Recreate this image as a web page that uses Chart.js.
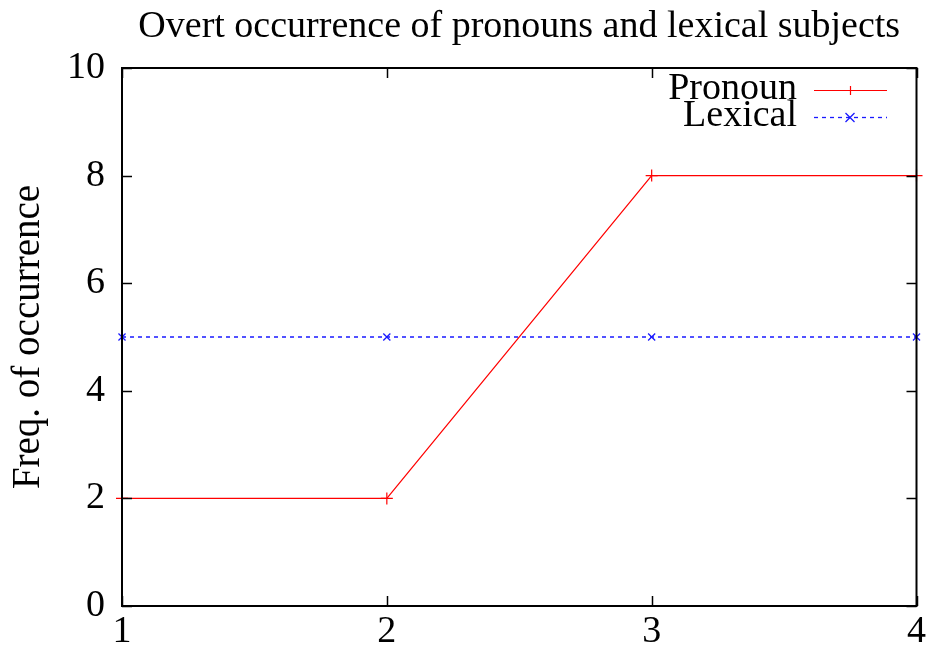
<!DOCTYPE html>
<html><head><meta charset="utf-8">
<script src="https://cdn.jsdelivr.net/npm/chart.js@4"></script>
<style>html,body{margin:0;padding:0;background:#fff}#wrap{width:929px;height:647px}</style>
</head><body><div id="wrap"><canvas id="c" width="929" height="647"></canvas></div>
<script>
const xValues = [1, 2, 3, 4];
const pronoun = [2, 2, 8, 8];
const lexical = [5, 5, 5, 5];
const xTicks = [1, 2, 3, 4];
const yTicks = [0, 2, 4, 6, 8, 10];
const titleText = 'Overt occurrence of pronouns and lexical subjects';
const yTitle = 'Freq. of occurrence';
const FONT = '"Liberation Serif", "Times New Roman", serif';

const framePlugin = {
  id: 'frame',
  afterDatasetsDraw(chart) {
    const {ctx, chartArea: a, scales: {x, y}} = chart;
    ctx.save();
    ctx.strokeStyle = '#000';
    ctx.lineWidth = 1.5;
    const tl = 10;
    yTicks.forEach(v => {
      const py = Math.round(y.getPixelForValue(v)) + 0.5;
      ctx.beginPath(); ctx.moveTo(a.left, py); ctx.lineTo(a.left + tl, py); ctx.stroke();
      ctx.beginPath(); ctx.moveTo(a.right, py); ctx.lineTo(a.right - tl, py); ctx.stroke();
    });
    xTicks.forEach(v => {
      const px = Math.round(x.getPixelForValue(v)) + 0.5;
      ctx.beginPath(); ctx.moveTo(px, a.bottom); ctx.lineTo(px, a.bottom - tl); ctx.stroke();
      ctx.beginPath(); ctx.moveTo(px, a.top); ctx.lineTo(px, a.top + tl); ctx.stroke();
    });
    ctx.lineWidth = 2;
    ctx.strokeRect(a.left, a.top, a.right - a.left, a.bottom - a.top);
    // title
    ctx.fillStyle = '#000';
    ctx.font = '38px ' + FONT;
    ctx.textAlign = 'center';
    ctx.textBaseline = 'middle';
    ctx.fillText(titleText, (a.left + a.right) / 2 , 27);
    // y title
    ctx.save();
    ctx.translate(29, (a.top + a.bottom) / 2);
    ctx.rotate(-Math.PI / 2);
    ctx.font = '39px ' + FONT;
    ctx.fillText(yTitle, 0, 0);
    ctx.restore();
    // legend
    ctx.font = '38px ' + FONT;
    ctx.textAlign = 'right';
    const rows = [[0, 89], [1, 116]];
    rows.forEach(([i, ry]) => {
      const ds = chart.data.datasets[i];
      ctx.fillStyle = '#000';
      ctx.fillText(ds.label, 797, ry);
      const ly = ry + 1.5;
      ctx.strokeStyle = ds.borderColor;
      ctx.lineWidth = ds.borderWidth;
      ctx.setLineDash(ds.borderDash || []);
      ctx.beginPath(); ctx.moveTo(814, ly); ctx.lineTo(887, ly); ctx.stroke();
      ctx.setLineDash([]);
      const m = 4.5;
      ctx.beginPath();
      if (ds.pointStyle === 'cross') {
        ctx.moveTo(850 - m, ly); ctx.lineTo(850 + m, ly);
        ctx.moveTo(850.5, ly - m); ctx.lineTo(850.5, ly + m);
      } else {
        ctx.moveTo(850 - m, ly - m); ctx.lineTo(850 + m, ly + m);
        ctx.moveTo(850 - m, ly + m); ctx.lineTo(850 + m, ly - m);
      }
      ctx.stroke();
    });
    ctx.restore();
  }
};

new Chart(document.getElementById('c'), {
  type: 'line',
  data: {
    datasets: [
      {
        label: 'Pronoun',
        data: xValues.map((v, i) => ({x: v, y: pronoun[i]})),
        borderColor: '#ff0000',
        backgroundColor: '#ff0000',
        borderWidth: 1.2,
        pointStyle: 'cross',
        pointRadius: 6,
        pointBorderWidth: 1.2,
        tension: 0,
        clip: false
      },
      {
        label: 'Lexical',
        data: xValues.map((v, i) => ({x: v, y: lexical[i]})),
        borderColor: '#1a1aff',
        backgroundColor: '#1a1aff',
        borderWidth: 1.3,
        borderDash: [4, 4],
        pointStyle: 'crossRot',
        pointRadius: 5,
        pointBorderWidth: 1.3,
        tension: 0,
        clip: false
      }
    ]
  },
  options: {
    responsive: false,
    animation: false,
    events: [],
    layout: {padding: {left: 0, right: 10, top: 68, bottom: 0}},
    plugins: {legend: {display: false}, title: {display: false}, tooltip: {enabled: false}},
    scales: {
      x: {
        type: 'linear', min: 1, max: 4,
        afterBuildTicks: s => { s.ticks = xTicks.map(v => ({value: v})); },
        afterFit: s => { s.height = 41; },
        grid: {display: false, drawTicks: false},
        border: {display: false},
        ticks: {color: '#000', font: {family: FONT, size: 38}, padding: 3, maxRotation: 0}
      },
      y: {
        type: 'linear', min: 0, max: 10,
        afterBuildTicks: s => { s.ticks = yTicks.map(v => ({value: v})); },
        afterFit: s => { s.width = 122; },
        grid: {display: false, drawTicks: false},
        border: {display: false},
        ticks: {color: '#000', font: {family: FONT, size: 38}, padding: 17}
      }
    }
  },
  plugins: [framePlugin]
});
</script>
</body></html>
